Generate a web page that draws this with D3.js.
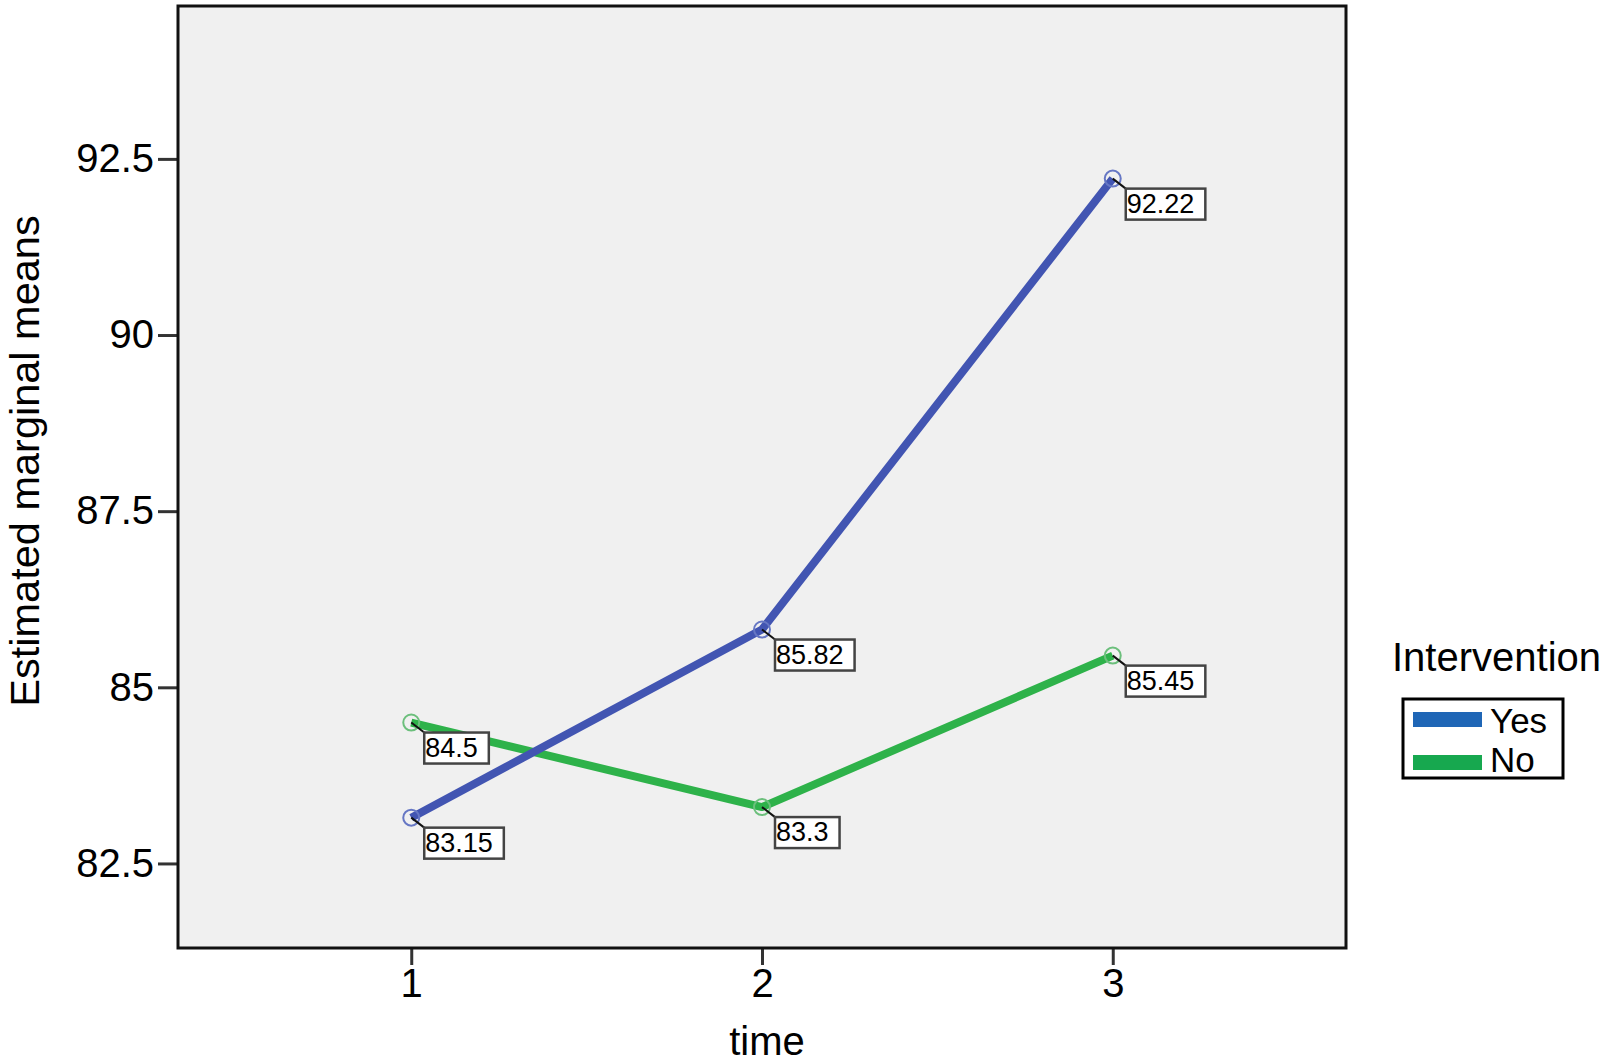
<!DOCTYPE html>
<html lang="en">
<head>
  <meta charset="utf-8">
  <title>Estimated marginal means</title>
  <script src="https://cdn.jsdelivr.net/npm/d3@7"></script>
  <style>
    body { margin: 0; background: #fff; }
    svg text { font-family: "Liberation Sans", Arial, sans-serif; fill: #000; }
  </style>
</head>
<body>
  <script>
    // values
    const times = [1, 2, 3];
    const groups = ["Yes", "No"];
    const yesMeans = [83.15, 85.82, 92.22];
    const noMeans = [84.5, 83.3, 85.45];
    const yTicks = [82.5, 85, 87.5, 90, 92.5];

    const lineColor = { Yes: "#4255b2", No: "#2eb24a" };
    const markColor = { Yes: "#6677c4", No: "#6cbf7c" };
    const legendColor = { Yes: "#1f66b6", No: "#17a84f" };

    const w = 1608, h = 1063;
    const plot = { left: 178, top: 6, right: 1346, bottom: 948 };

    const svg = d3.select("body").append("svg")
      .attr("width", w)
      .attr("height", h);

    const xScale = d3.scaleLinear()
      .domain([0.335, 3.665])
      .range([plot.left, plot.right]);

    const yScale = d3.scaleLinear()
      .domain([81.3, 94.67])
      .range([plot.bottom, plot.top]);

    // plot background
    svg.append("rect")
      .attr("x", plot.left)
      .attr("y", plot.top)
      .attr("width", plot.right - plot.left)
      .attr("height", plot.bottom - plot.top)
      .attr("fill", "#f0f0f0");

    const yAxis = d3.axisLeft(yScale)
      .tickValues(yTicks)
      .tickFormat(d3.format(""))
      .tickSize(20)
      .tickPadding(4);

    const gy = svg.append("g")
      .attr("transform", "translate(" + plot.left + ",0)")
      .call(yAxis);
    gy.select(".domain").remove();
    gy.selectAll("line").attr("stroke", "#333").attr("stroke-width", 3);
    gy.selectAll("text").style("font-size", "40px");

    const xAxis = d3.axisBottom(xScale)
      .tickValues(times)
      .tickFormat(d3.format("d"))
      .tickSize(17)
      .tickPadding(4);

    const gx = svg.append("g")
      .attr("transform", "translate(0," + plot.bottom + ")")
      .call(xAxis);
    gx.select(".domain").remove();
    gx.selectAll("line").attr("stroke", "#333").attr("stroke-width", 3);
    gx.selectAll("text").style("font-size", "40px");

    // frame
    svg.append("rect")
      .attr("x", plot.left)
      .attr("y", plot.top)
      .attr("width", plot.right - plot.left)
      .attr("height", plot.bottom - plot.top)
      .attr("fill", "none")
      .attr("stroke", "#111")
      .attr("stroke-width", 3);

    // axis titles
    svg.append("text")
      .attr("transform", "translate(39," + 461 + ") rotate(-90)")
      .attr("text-anchor", "middle")
      .style("font-size", "41.5px")
      .text("Estimated marginal means");

    svg.append("text")
      .attr("x", 767)
      .attr("y", 1055)
      .attr("text-anchor", "middle")
      .style("font-size", "40px")
      .text("time");

    const series = [
      { name: "Yes", values: yesMeans },
      { name: "No", values: noMeans }
    ];

    const line = d3.line()
      .x((d, i) => xScale(times[i]))
      .y(d => yScale(d));

    // draw No first so Yes sits on top at the crossing
    const drawOrder = [series[1], series[0]];

    drawOrder.forEach(s => {
      svg.append("path")
        .datum(s.values)
        .attr("d", line)
        .attr("fill", "none")
        .attr("stroke", lineColor[s.name])
        .attr("stroke-width", 8)
        .attr("stroke-linejoin", "round");
    });

    drawOrder.forEach(s => {
      s.values.forEach((v, i) => {
        const px = xScale(times[i]);
        const py = yScale(v);

        svg.append("circle")
          .attr("cx", px)
          .attr("cy", py)
          .attr("r", 8)
          .attr("fill", "none")
          .attr("stroke", markColor[s.name])
          .attr("stroke-width", 2);

        svg.append("line")
          .attr("x1", px)
          .attr("y1", py)
          .attr("x2", px + 13)
          .attr("y2", py + 10)
          .attr("stroke", "#111")
          .attr("stroke-width", 2);
      });
    });

    // value labels
    drawOrder.forEach(s => {
      s.values.forEach((v, i) => {
        const bx = xScale(times[i]) + 13;
        const by = yScale(v) + 10;
        const g = svg.append("g");
        const box = g.append("rect")
          .attr("x", bx)
          .attr("y", by)
          .attr("height", 31)
          .attr("fill", "#fff")
          .attr("stroke", "#444")
          .attr("stroke-width", 2.5);
        const t = g.append("text")
          .attr("x", bx + 1)
          .attr("y", by + 24)
          .style("font-size", "27px")
          .text(String(v));
        box.attr("width", t.node().getComputedTextLength() + 12);
      });
    });

    // legend
    svg.append("text")
      .attr("x", 1392)
      .attr("y", 671)
      .style("font-size", "40px")
      .text("Intervention");

    const legend = svg.append("g").attr("id", "legend");

    legend.append("rect")
      .attr("x", 1403)
      .attr("y", 699)
      .attr("width", 160)
      .attr("height", 79)
      .attr("fill", "#fff")
      .attr("stroke", "#000")
      .attr("stroke-width", 3);

    groups.forEach((g, i) => {
      legend.append("rect")
        .attr("x", 1413)
        .attr("y", 712 + i * 43)
        .attr("width", 69)
        .attr("height", 15)
        .attr("fill", legendColor[g]);

      legend.append("text")
        .attr("x", 1490)
        .attr("y", 733 + i * 39)
        .style("font-size", "35px")
        .text(g);
    });
  </script>
</body>
</html>
